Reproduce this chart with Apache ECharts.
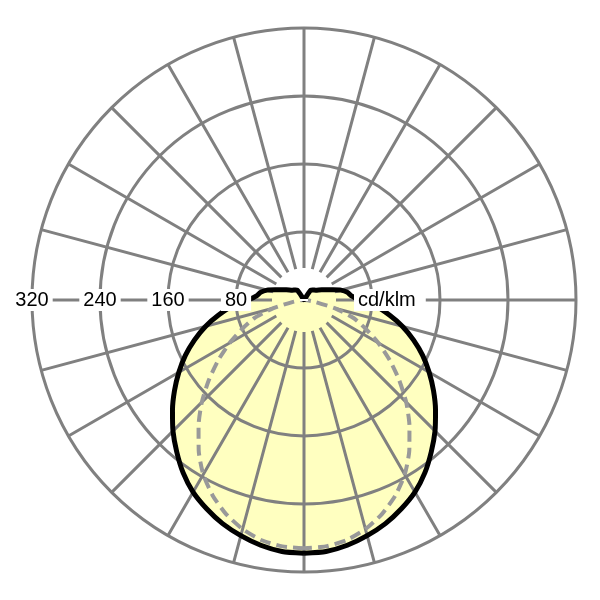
<!DOCTYPE html>
<html>
<head>
<meta charset="utf-8">
<script src="https://cdn.jsdelivr.net/npm/echarts@6/dist/echarts.min.js"></script>
<style>
  html, body { margin: 0; padding: 0; background: #fff; }
  #chart { width: 600px; height: 600px; }
</style>
</head>
<body>
<div id="chart"></div>
<script>
// 光强分布 (cd/klm)，gamma 0 = 正下方，0..180 为左半，右半对称
var gammaDeg = [0, 5, 10, 15, 20, 25, 30, 35, 40, 45, 50, 55, 60, 65, 70, 75, 80, 85, 90,
                95, 100, 105, 110, 120, 130, 140, 145, 150, 160, 170, 180];
// C0-C180 平面 (实线)
var solidCdKlm = [298, 297, 293, 287, 280, 271, 261, 248, 233, 218, 202, 186, 170, 154, 137, 120, 102, 85, 66,
                  56, 52, 45, 35, 24, 18, 15.5, 14.3, 1.5, 1, 0.5, 0];
// C90-C270 平面 (虚线)
var dashCdKlm = [292, 291, 287, 279, 268, 254, 237, 216, 193, 170, 146, 123, 101, 80, 62, 38, 14, 4, 0,
                 0, 0, 0, 0, 0, 0, 0, 0, 0, 0, 0, 0];
var radiusMax = 320;   // 外圈
var radiusStep = 80;   // 圆环间隔
var spokeStep = 15;    // 径向线间隔(度)
var unitName = 'cd/klm';

var gridColor = '#808080';
var cx = 304, cy = 300, outerR = 272;
var innerGap = 32; // 中心空白半径(px)

// 左半 + 镜像右半，闭合成一条曲线
function buildCurve(vals) {
    var pts = [];
    for (var i = 0; i < gammaDeg.length; i++) {
        pts.push([vals[i], gammaDeg[i]]);
    }
    for (var j = gammaDeg.length - 1; j >= 0; j--) {
        pts.push([vals[j], 360 - gammaDeg[j]]);
    }
    return pts;
}

var solidData = buildCurve(solidCdKlm);
var dashData = buildCurve(dashCdKlm);

var labelFont = {fontFamily: 'Liberation Sans, Arial, sans-serif', fontSize: 20, color: '#000'};

var option = {
    animation: false,
    backgroundColor: '#fff',
    polar: [
        {center: [cx, cy], radius: [innerGap, outerR]}, // 径向线
        {center: [cx, cy], radius: [0, outerR]},        // 圆环 + 数据
        {center: [cx, cy], radius: [0, outerR]}         // 刻度文字
    ],
    angleAxis: [
        {
            polarIndex: 0, type: 'value', min: 0, max: 360, interval: spokeStep, startAngle: 270, z: 3,
            axisLine: {show: false}, axisTick: {show: false}, axisLabel: {show: false},
            splitLine: {show: true, lineStyle: {color: gridColor, width: 3}}
        },
        {polarIndex: 1, type: 'value', min: 0, max: 360, startAngle: 270, show: false},
        {polarIndex: 2, type: 'value', min: 0, max: 360, startAngle: 180, show: false}
    ],
    radiusAxis: [
        {polarIndex: 0, type: 'value', min: 0, max: 1, show: false},
        {
            polarIndex: 1, type: 'value', min: 0, max: radiusMax, interval: radiusStep, z: 3,
            axisLine: {show: false}, axisTick: {show: false}, axisLabel: {show: false},
            splitLine: {show: true, lineStyle: {color: gridColor, width: 3}}
        },
        {
            polarIndex: 2, type: 'value', min: 0, max: radiusMax, interval: radiusStep, z: 10,
            axisLine: {show: false}, axisTick: {show: false}, splitLine: {show: false},
            axisLabel: {
                show: true, margin: 0, align: 'center', verticalAlign: 'middle',
                backgroundColor: '#fff', padding: [1, 4],
                fontFamily: labelFont.fontFamily, fontSize: labelFont.fontSize, color: labelFont.color,
                formatter: function (v) { return v === 0 ? '' : String(v); }
            }
        }
    ],
    graphic: [{
        type: 'text', z: 100,
        x: cx + 50, y: cy,
        style: {
            text: unitName, fill: '#000',
            font: labelFont.fontSize + 'px ' + labelFont.fontFamily,
            verticalAlign: 'middle', align: 'left',
            backgroundColor: '#fff', padding: [1, 10, 1, 4]
        }
    }],
    series: [
        {
            // 黄色填充
            type: 'line', coordinateSystem: 'polar', polarIndex: 1, z: 1,
            data: solidData, symbol: 'none', smooth: 0.2,
            lineStyle: {width: 0, opacity: 0},
            areaStyle: {color: '#ffffc0', opacity: 1}
        },
        {
            type: 'line', coordinateSystem: 'polar', polarIndex: 1, z: 4,
            data: dashData, symbol: 'none', smooth: 0.2,
            lineStyle: {color: '#999999', width: 4, type: [11, 6]}
        },
        {
            type: 'line', coordinateSystem: 'polar', polarIndex: 1, z: 5,
            data: solidData, symbol: 'none', smooth: 0.2,
            lineStyle: {color: '#000', width: 5, join: 'round'}
        }
    ]
};

echarts.init(document.getElementById('chart')).setOption(option);
</script>
</body>
</html>
